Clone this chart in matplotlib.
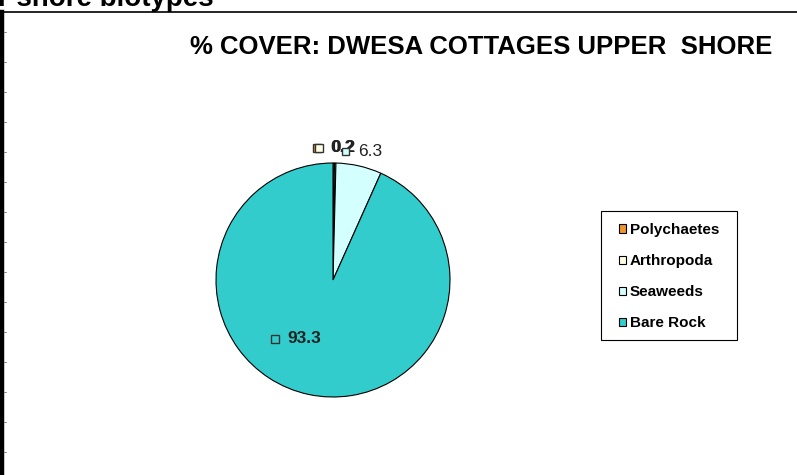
import matplotlib.pyplot as plt
import numpy as np
from matplotlib.lines import Line2D
from matplotlib.patches import Rectangle
from matplotlib.offsetbox import AnnotationBbox, DrawingArea, HPacker, TextArea

plt.rcParams['font.family'] = ['Liberation Sans', 'DejaVu Sans']

# upper shore cover at Dwesa cottages (%)
groups = ['Polychaetes', 'Arthropoda', 'Seaweeds', 'Bare Rock']
cover = [0.2, 0.2, 6.3, 93.3]
colours = ['#F0962A', '#FFFFE6', '#D4FFFF', '#33CCCC']
label_bold = [True, True, False, True]

fig = plt.figure(figsize=(7.97, 4.75), dpi=100)
W, H = 797, 475

# page bits around the chart
fig.text(-0.003, 1 - 6 / H, 'r shore biotypes', fontsize=20, fontweight='bold',
         ha='left', va='baseline')
fig.add_artist(Line2D([4 / W, 1], [1 - 12 / H, 1 - 12 / H], color='black', lw=1.2))
fig.add_artist(Line2D([2 / W, 2 / W], [0, 1 - 12 / H], color='black', lw=3.2))
for ty in np.arange(32, 475, 30):
    fig.add_artist(Line2D([4 / W, 6 / W], [1 - ty / H, 1 - ty / H], color='#777777', lw=0.6))

fig.text(481 / W, 1 - 47 / H, '% COVER: DWESA COTTAGES UPPER  SHORE', fontsize=18.5,
         fontweight='bold', ha='center', va='center')

# pie axes centred at (333, 280) px, radius 117 px
cx, cy, r = 333, 280, 117
ax = fig.add_axes([(cx - 1.25 * r) / W, (H - cy - 1.25 * r) / H, 2.5 * r / W, 2.5 * r / H])
wedges, _ = ax.pie(cover, colors=colours, startangle=90, counterclock=False,
                   wedgeprops=dict(edgecolor='black', linewidth=0.8))
ax.set_xlim(-1.25, 1.25)
ax.set_ylim(-1.25, 1.25)

# data labels with a little colour key square in front
for w, val, col, bold in zip(wedges, cover, colours, label_bold):
    mid = np.deg2rad((w.theta1 + w.theta2) / 2)
    dist = 1.13 if val < 50 else 0.55
    x, y = dist * np.cos(mid), dist * np.sin(mid)
    if val > 50:
        x -= 0.2
        y += 0.035
    da = DrawingArea(6, 6, 0, 0)
    da.add_artist(Rectangle((0, 0), 5.5, 5.5, facecolor=col, edgecolor='#333333', lw=1.0))
    ta = TextArea(f'{val}', textprops=dict(fontsize=12.5, color='#222222',
                                           fontweight='bold' if bold else 'normal'))
    box = HPacker(children=[da, ta], align='center', pad=0, sep=6)
    ab = AnnotationBbox(box, (x, y), frameon=False, box_alignment=(0.5, 0.5),
                        annotation_clip=False)
    ax.add_artist(ab)

# legend without its own frame, box drawn separately
fig.add_artist(Rectangle((601 / W, 1 - 340 / H), 136 / W, 129 / H, transform=fig.transFigure,
                         facecolor='none', edgecolor='black', lw=0.8))
leg = fig.legend(wedges, groups, loc='upper left', bbox_to_anchor=(619 / W, 1 - 223 / H),
                 borderaxespad=0, borderpad=0, frameon=False,
                 prop=dict(size=11, weight='bold'), handlelength=0.45, handleheight=0.45,
                 handletextpad=0.25, labelspacing=1.12)

fig.savefig('out.png', dpi=100)
